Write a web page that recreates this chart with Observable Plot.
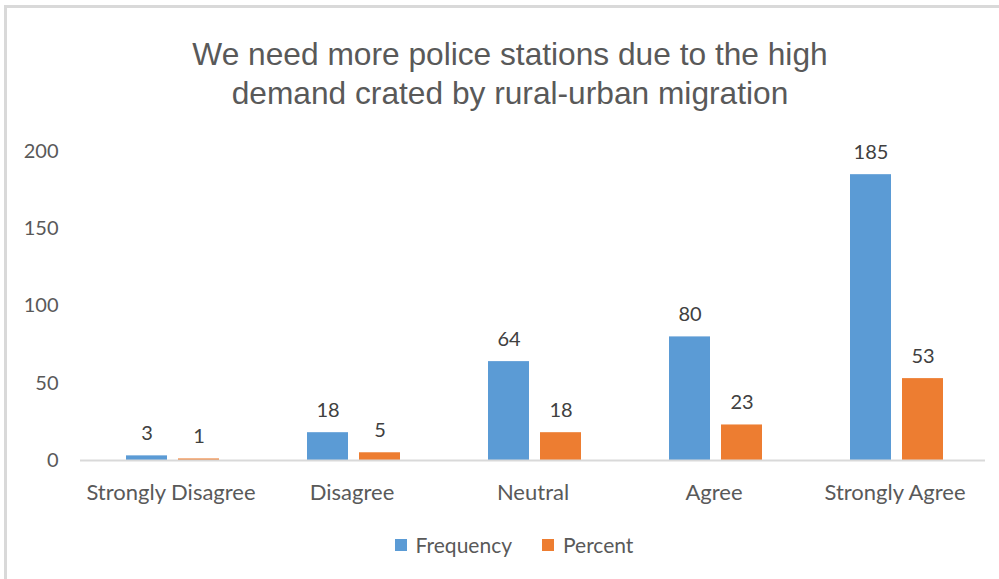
<!DOCTYPE html>
<html>
<head>
<meta charset="utf-8">
<script src="https://cdn.jsdelivr.net/npm/d3@7"></script>
<script src="https://cdn.jsdelivr.net/npm/@observablehq/plot@0.6"></script>
<style>
  html, body { margin: 0; padding: 0; background: #fff; }
  #page { position: relative; width: 999px; height: 579px; overflow: hidden; }
  #frame { position: absolute; left: 4px; top: 5px; width: 1000px; height: 580px;
           border-left: 3px solid #d9d9d9; border-top: 3px solid #d9d9d9; }
  #title { position: absolute; left: 0; top: 35px; width: 1020px; text-align: center;
           font-family: "Liberation Sans", Arial, sans-serif; font-size: 31.7px; line-height: 39px; color: #595959; }
  #chart { position: absolute; left: 0; top: 120px; }
  #legend { position: absolute; top: 532px; left: 0; width: 1028px; display: flex; justify-content: center; gap: 30px;
            font-family: Lato, sans-serif; font-size: 21px; line-height: 26px; color: #595959; }
  .item { display: flex; align-items: center; }
  .sw { width: 12px; height: 12px; margin-right: 9px; display: inline-block; }
</style>
</head>
<body>
<div id="page">
  <div id="frame"></div>
  <div id="title">We need more police stations due to the high<br>demand crated by rural-urban migration</div>
  <div id="chart"></div>
  <div id="legend"></div>
</div>
<script>
const categories = ["Strongly Disagree", "Disagree", "Neutral", "Agree", "Strongly Agree"];
const frequency = [3, 18, 64, 80, 185];
const percent = [1, 5, 18, 23, 53];
const seriesNames = ["Frequency", "Percent"];
const seriesColors = ["#5B9BD5", "#ED7D31"];
const yTicks = [0, 50, 100, 150, 200];

const freqRows = categories.map((c, i) => ({category: c, value: frequency[i]}));
const pctRows = categories.map((c, i) => ({category: c, value: percent[i]}));

const plot = Plot.plot({
  width: 999,
  height: 400,
  marginLeft: 80,
  marginRight: 14,
  marginTop: 31,
  marginBottom: 60,
  style: {fontFamily: "Lato, sans-serif", fontSize: "20px", color: "#595959", background: "transparent", overflow: "visible"},
  x: {domain: categories, padding: 0, tickSize: 0, tickPadding: 24, label: null},
  y: {domain: [0, 200], ticks: yTicks, tickSize: 0, tickPadding: 22, label: null},
  marks: [
    Plot.barY(freqRows, {x: "category", y: "value", fill: seriesColors[0], insetLeft: 46, insetRight: 94}),
    Plot.barY(pctRows, {x: "category", y: "value", fill: seriesColors[1], insetLeft: 98, insetRight: 42}),
    Plot.ruleY([0], {stroke: "#d9d9d9", strokeWidth: 2}),
    Plot.text(freqRows, {x: "category", y: "value", text: d => String(d.value), dx: -24, dy: -22, fill: "#404040", fontSize: 20}),
    Plot.text(pctRows, {x: "category", y: "value", text: d => String(d.value), dx: 28, dy: -22, fill: "#404040", fontSize: 20})
  ]
});
plot.querySelectorAll("g[aria-label='x-axis tick label'] text, g[aria-label='x-axis'] text").forEach(t => t.setAttribute("font-size", "22"));
document.getElementById("chart").appendChild(plot);

const legend = document.getElementById("legend");
seriesNames.forEach((name, i) => {
  const item = document.createElement("div");
  item.className = "item";
  const sw = document.createElement("span");
  sw.className = "sw";
  sw.style.background = seriesColors[i];
  const t = document.createElement("span");
  t.textContent = name;
  item.appendChild(sw);
  item.appendChild(t);
  legend.appendChild(item);
});
</script>
</body>
</html>
